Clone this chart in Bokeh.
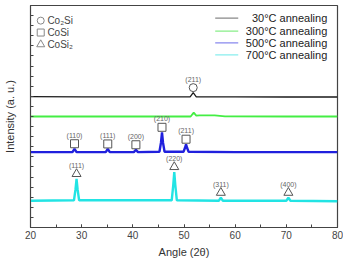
import numpy as np
from bokeh.plotting import figure
from bokeh.models import SingleIntervalTicker, FixedTicker, CustomJSTickFormatter
from bokeh.core.properties import value
from bokeh.embed import file_html
from bokeh.resources import INLINE

# ---- data (intensity in arbitrary units) ----
ang_30 = [20, 30, 40, 51.2, 51.8, 52.4, 60, 70, 80]
int_30 = [12.97, 12.95, 12.95, 12.95, 13.36, 12.95, 12.95, 12.93, 12.93]

ang_300 = [20, 30, 40, 51.3, 51.9, 52.4, 53.0, 56.0, 58.0, 70, 80]
int_300 = [11.0, 11.0, 11.0, 11.0, 11.38, 11.08, 11.12, 11.12, 11.02, 11.0, 11.0]

ang_500 = [20, 28.2, 28.6, 29.0, 34.7, 35.1, 35.5, 40.2, 40.6, 41.0,
           45.2, 45.5, 45.7, 45.9, 46.2, 49.9, 50.2, 50.4, 50.6, 50.9, 60, 70, 80]
int_500 = [7.47, 7.47, 7.80, 7.47, 7.47, 7.78, 7.47, 7.47, 7.70, 7.47,
           7.50, 8.40, 9.43, 8.40, 7.50, 7.50, 7.90, 8.25, 7.90, 7.50, 7.47, 7.47, 7.47]

ang_700 = [20, 28.5, 28.8, 29.0, 29.2, 29.5, 47.6, 47.9, 48.1, 48.3, 48.6,
           56.8, 57.2, 57.6, 70.0, 70.4, 70.8, 80]
int_700 = [2.65, 2.70, 3.80, 4.81, 3.80, 2.70, 2.70, 4.20, 5.50, 4.20, 2.70,
           2.65, 2.95, 2.65, 2.65, 2.95, 2.65, 2.60]

series_labels = ["30\u00b0C annealing", "300\u00b0C annealing",
                 "500\u00b0C annealing", "700\u00b0C annealing"]

# peak annotations
co2si_ang = [51.8]
co2si_hkl = ["(211)"]
cosi_ang = [28.6, 35.1, 40.6, 45.7, 50.4]
cosi_hkl = ["(110)", "(111)", "(200)", "(210)", "(211)"]
cosi2_ang = [29.0, 48.1, 57.2, 70.4]
cosi2_hkl = ["(111)", "(220)", "(311)", "(400)"]

phase_names = ["Co\u2082Si", "CoSi", "CoSi\u2082"]

# ---- figure ----
p = figure(width=343, height=260, x_range=(20, 80), y_range=(0, 22),
           output_backend="svg", toolbar_location=None,
           min_border_left=30, min_border_right=6, min_border_top=5,
           min_border_bottom=31, background_fill_color="white")
p.grid.visible = False
p.outline_line_color = "#444444"
p.outline_line_width = 1.2

FONT = "Liberation Sans"

xa = p.xaxis[0]
xa.ticker = SingleIntervalTicker(interval=10, num_minor_ticks=2)
xa.major_tick_in = 3
xa.major_tick_out = 0
xa.minor_tick_in = 3
xa.minor_tick_out = 0
xa.axis_line_color = "#444444"
xa.major_tick_line_color = "#444444"
xa.minor_tick_line_color = "#444444"
xa.major_label_text_font = FONT
xa.major_label_text_font_size = "10px"
xa.major_label_text_color = "#444444"
xa.major_label_standoff = 3
xa.axis_label = "Angle (2\u03b8)"
xa.axis_label_text_font = FONT
xa.axis_label_text_font_size = "11px"
xa.axis_label_text_font_style = "normal"
xa.axis_label_text_color = "#333333"
xa.axis_label_standoff = 4

ya = p.yaxis[0]
ya.ticker = FixedTicker(ticks=list(range(0, 23)))
ya.formatter = CustomJSTickFormatter(code="return '';")
ya.major_tick_in = 3
ya.major_tick_out = 0
ya.minor_tick_line_color = None
ya.axis_line_color = "#444444"
ya.major_tick_line_color = "#444444"
ya.major_label_standoff = 0
ya.axis_label = "Intensity (a. u.)"
ya.axis_label_text_font = FONT
ya.axis_label_text_font_size = "11px"
ya.axis_label_text_font_style = "normal"
ya.axis_label_text_color = "#333333"
ya.axis_label_standoff = 15

# ---- traces ----
traces = [(ang_30, int_30, "#1a1a1a", 1.3),
          (ang_300, int_300, "#44ee44", 1.8),
          (ang_500, int_500, "#2020dd", 2.4),
          (ang_700, int_700, "#22e4e4", 2.4)]
for a, i, c, w in traces:
    p.line(a, i, line_color=c, line_width=w)

# ---- peak markers ----
def peak_heights(angles, xs, ys):
    xs = np.array(xs); ys = np.array(ys)
    return [float(ys[np.abs(xs - a) <= 0.5].max()) for a in angles]

MC = "#555555"
def annotate(angles, hkls, xs, ys, marker):
    h = np.array(peak_heights(angles, xs, ys))
    p.scatter(angles, h + 0.5, marker=marker, size=8 if marker != "triangle" else 9,
              fill_color=None, line_color=MC, line_width=1)
    p.text(angles, h + 1.35, text=hkls, text_font=value(FONT),
           text_font_size="7px", text_color="#666666", text_align="center",
           text_baseline="middle")

annotate(co2si_ang, co2si_hkl, ang_30, int_30, "circle")
annotate(cosi_ang, cosi_hkl, ang_500, int_500, "square")
annotate(cosi2_ang, cosi2_hkl, ang_700, int_700, "triangle")

# ---- phase legend (top left) ----
ly = [20.5, 19.32, 18.14]
p.scatter([22.0] * 3, ly, marker=["circle", "square", "triangle"],
          size=[7, 7, 8], fill_color=None, line_color="#888888", line_width=1)
p.text([23.3] * 3, ly, text=phase_names, text_font=value(FONT),
       text_font_size="10px", text_color="#444444", text_baseline="middle")

# ---- series legend (top right) ----
colors = ["#888888", "#88ee88", "#8888ee", "#88eeee"]
sy = [20.75, 19.47, 18.29, 17.11]
for yv, c, lab in zip(sy, colors, series_labels):
    p.line([56.1, 60.6], [yv, yv], line_color=c, line_width=1.2)
    p.text([78.0], [yv], text=[lab], text_font=value(FONT),
           text_font_size="11px", text_color="#222222", text_align="right",
           text_baseline="middle")

open("out.html", "w").write(file_html(p, INLINE))
